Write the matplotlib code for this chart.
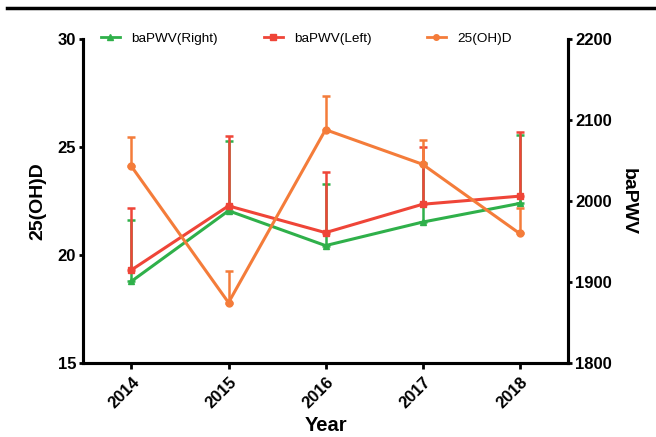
import matplotlib
matplotlib.use("Agg")
import matplotlib.pyplot as plt
from matplotlib.lines import Line2D

years = [2014, 2015, 2016, 2017, 2018]
year_labels = ["2014", "2015", "2016", "2017", "2018"]
vitd = [24.1, 17.8, 25.8, 24.2, 21.0]
vitd_err = [1.35, 1.45, 1.55, 1.1, 1.2]
pwv_left = [1915, 1994, 1961, 1996, 2006]
pwv_left_err = [76, 86, 75, 71, 79]
pwv_right = [1901, 1988, 1945, 1974, 1997]
pwv_right_err = [75, 86, 76, 73, 85]
series_names = ["baPWV(Right)", "baPWV(Left)", "25(OH)D"]

GREEN = "#2fb04a"
RED = "#ef4538"
ORANGE = "#f47c3a"

plt.rcParams['font.family'] = ['Liberation Sans', 'DejaVu Sans']

fig = plt.figure(figsize=(6.56, 4.37), dpi=100)
ax = fig.add_axes([0.1265, 0.169, 0.7395, 0.742])
ax2 = ax.twinx()

lw = 2.2
ax2.errorbar(years, pwv_right, yerr=[[0]*5, pwv_right_err], color=GREEN, lw=lw,
             marker='^', ms=5, capsize=3, capthick=1.8, elinewidth=1.8, zorder=2)
ax2.errorbar(years, pwv_left, yerr=[[0]*5, pwv_left_err], color=RED, lw=lw,
             marker='s', ms=5, capsize=3, capthick=1.8, elinewidth=1.8, zorder=3)
ax.errorbar(years, vitd, yerr=[[0]*5, vitd_err], color=ORANGE, lw=lw,
            marker='o', ms=5, capsize=3, capthick=1.8, elinewidth=1.8, zorder=4)

ax.set_zorder(ax2.get_zorder() + 1)
ax.patch.set_visible(False)

ax.set_xlim(2013.5, 2018.5)
ax.set_ylim(15, 30)
ax2.set_ylim(1800, 2200)
ax.set_yticks([15, 20, 25, 30])
ax2.set_yticks([1800, 1900, 2000, 2100, 2200])
ax.set_xticks(years)
ax.set_xticklabels(year_labels, rotation=45, ha='right', rotation_mode='anchor',
                   fontsize=11.5, fontweight='bold')
for a in (ax, ax2):
    a.spines['top'].set_visible(False)
    for s in ('left', 'right', 'bottom'):
        a.spines[s].set_linewidth(2.2)
    a.tick_params(width=2, length=3, labelsize=12, pad=2)
for t in ax.get_yticklabels() + ax2.get_yticklabels():
    t.set_fontweight('bold')
ax.tick_params(axis='x', length=4, pad=4)

ax.set_ylabel("25(OH)D", fontsize=14, fontweight='bold', labelpad=8)
ax2.set_ylabel("baPWV", fontsize=14, fontweight='bold', rotation=270, labelpad=18)
ax.set_xlabel("Year", fontsize=14.5, fontweight='bold', labelpad=4)

handles = [
    Line2D([], [], color=GREEN, lw=2, marker='^', ms=4),
    Line2D([], [], color=RED, lw=2, marker='s', ms=4),
    Line2D([], [], color=ORANGE, lw=2, marker='o', ms=4),
]
xs = [0.154, 0.402, 0.651]
for h, name, x in zip(handles, series_names, xs):
    fig.legend([h], [name], frameon=False, loc='center left',
               bbox_to_anchor=(x, 0.911), bbox_transform=fig.transFigure,
               fontsize=9.7, handlelength=1.4, handletextpad=0.85,
               borderpad=0, borderaxespad=0)

fig.add_artist(Line2D([0.01, 1.0], [0.982, 0.982], color='black', lw=2.5))

fig.savefig("out.png", dpi=100, facecolor='white')
